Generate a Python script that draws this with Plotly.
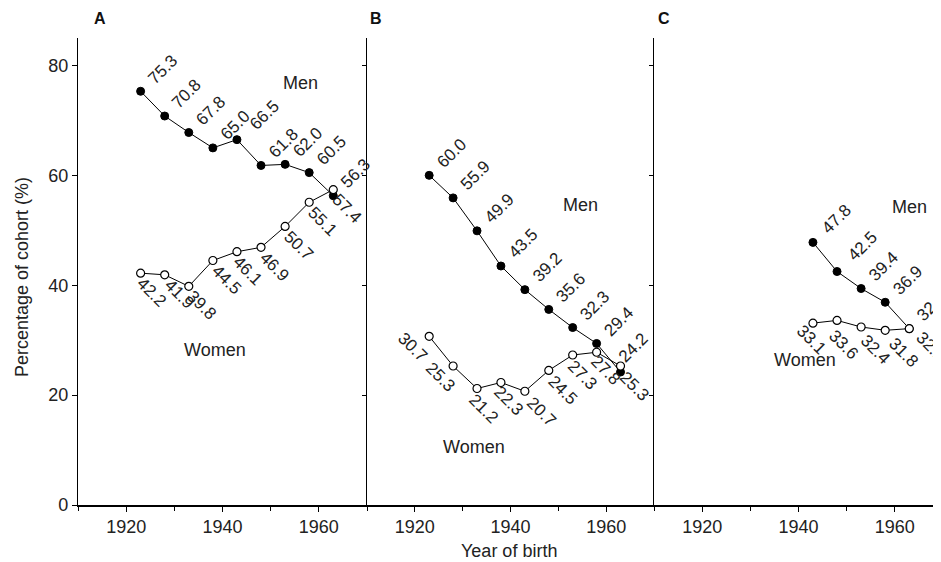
import plotly.graph_objects as go

# ---- data ----
years_ab = [1923, 1928, 1933, 1938, 1943, 1948, 1953, 1958, 1963]
years_c = [1943, 1948, 1953, 1958, 1963]

men_a = [75.3, 70.8, 67.8, 65.0, 66.5, 61.8, 62.0, 60.5, 56.3]
women_a = [42.2, 41.9, 39.8, 44.5, 46.1, 46.9, 50.7, 55.1, 57.4]

men_b = [60.0, 55.9, 49.9, 43.5, 39.2, 35.6, 32.3, 29.4, 24.2]
women_b = [30.7, 25.3, 21.2, 22.3, 20.7, 24.5, 27.3, 27.8, 25.3]

men_c = [47.8, 42.5, 39.4, 36.9, 32.1]
women_c = [33.1, 33.6, 32.4, 31.8, 32.1]

panel_letters = ["A", "B", "C"]
x_ticks = [1920, 1940, 1960]
y_ticks = [0, 20, 40, 60, 80]

FONT = "Liberation Sans, Arial, Helvetica, sans-serif"
TXT = "#222"
FS = 17

# page body has an 8px margin; lay out in page pixels minus 8
OFF = 8
W, H = 941 - OFF, 562 - OFF
L, T = 78 - OFF, 38 - OFF
R = 0
B = H - (505 - OFF)
pw = W - L - R
ph = H - T - B
dA = [0, 289 / pw]
dB = [289 / pw, 576 / pw]
dC = [576 / pw, 1]
px_per_year = 289 / 60.0
c_end = 1910 + (pw - 576) / px_per_year


def px_to_paper_x(px):
    return (px - OFF - L) / pw


def px_to_paper_y(py):
    return (H - B - (py - OFF)) / ph


fig = go.Figure()

panels = [
    ("x", "y", years_ab, men_a, women_a),
    ("x2", "y2", years_ab, men_b, women_b),
    ("x3", "y3", years_c, men_c, women_c),
]

for xr, yr, yrs, men, women in panels:
    fig.add_trace(go.Scatter(
        x=yrs, y=men, mode="lines+markers", xaxis=xr, yaxis=yr,
        line=dict(color="black", width=1),
        marker=dict(symbol="circle", size=8, color="black",
                    line=dict(color="black", width=1)),
        showlegend=False, hoverinfo="skip", cliponaxis=False))
    fig.add_trace(go.Scatter(
        x=yrs, y=women, mode="lines+markers", xaxis=xr, yaxis=yr,
        line=dict(color="black", width=1),
        marker=dict(symbol="circle", size=8, color="white",
                    line=dict(color="black", width=1.2)),
        showlegend=False, hoverinfo="skip", cliponaxis=False))

annotations = []

# per-label nudges (pixels) for crowded spots
men_nudge = {("x", 4): (6, 3), ("x2", 8): (-8, 3), ("x3", 0): (2, 2),
             ("x3", 1): (4, 4)}
women_nudge = {("x", 0): (-4, -4), ("x", 1): (0, -4), ("x", 4): (-5, -4),
               ("x2", 2): (-10, -4), ("x2", 3): (-9, -2), ("x2", 4): (0, -4),
               ("x2", 6): (-6, -4), ("x2", 7): (-7, -2),
               ("x3", 0): (-18, -4), ("x3", 1): (-10, -12), ("x3", 2): (-2, -10),
               ("x3", 3): (2, -10), ("x3", 4): (5, -6)}
women_fix = {"x": (-6, 6), "x2": (-5, 5), "x3": (-5, 9)}
women_left = {("x2", 0): (5, 10), ("x2", 1): (9, 10)}

for xr, yr, yrs, men, women in panels:
    for i, (xv, v) in enumerate(zip(yrs, men)):
        xs, ys = men_nudge.get((xr, i), (1, 1))
        annotations.append(dict(
            x=xv, y=v, xref=xr, yref=yr, text=f"{v:.1f}", showarrow=False,
            textangle=-45, xanchor="left", yanchor="bottom",
            xshift=xs, yshift=ys, font=dict(family=FONT, size=FS, color=TXT)))
    for i, (xv, v) in enumerate(zip(yrs, women)):
        if (xr, i) in women_left:
            xs, ys = women_left[(xr, i)]
            annotations.append(dict(
                x=xv, y=v, xref=xr, yref=yr, text=f"{v:.1f}", showarrow=False,
                textangle=45, xanchor="right", yanchor="top",
                xshift=xs, yshift=ys, font=dict(family=FONT, size=FS, color=TXT)))
        else:
            xs, ys = women_nudge.get((xr, i), (-2, -4))
            fx, fy = women_fix[xr]
            annotations.append(dict(
                x=xv, y=v, xref=xr, yref=yr, text=f"{v:.1f}", showarrow=False,
                textangle=45, xanchor="left", yanchor="top",
                xshift=xs + fx, yshift=ys + fy,
                font=dict(family=FONT, size=FS, color=TXT)))

# series names
name_pos = [
    ("x", "y", 1956.1, 76.8, "Men"), ("x", "y", 1938.4, 28.2, "Women"),
    ("x2", "y2", 1954.6, 54.6, "Men"), ("x2", "y2", 1932.4, 10.6, "Women"),
    ("x3", "y3", 1963.1, 54.2, "Men"), ("x3", "y3", 1941.3, 26.4, "Women"),
]
for xr, yr, xv, yv, t in name_pos:
    annotations.append(dict(x=xv, y=yv, xref=xr, yref=yr, text=t, showarrow=False,
                            font=dict(family=FONT, size=18, color=TXT)))

# panel letters
for lx, letter in zip([100, 376, 664], panel_letters):
    annotations.append(dict(x=px_to_paper_x(lx), y=px_to_paper_y(19),
                            xref="paper", yref="paper", text=f"<b>{letter}</b>",
                            showarrow=False, xanchor="center", yanchor="middle",
                            font=dict(family=FONT, size=16, color="#111")))

# axis titles
annotations.append(dict(x=px_to_paper_x(509), y=px_to_paper_y(551),
                        xref="paper", yref="paper", text="Year of birth",
                        showarrow=False, xanchor="center", yanchor="middle",
                        font=dict(family=FONT, size=18, color=TXT)))
annotations.append(dict(x=px_to_paper_x(22), y=px_to_paper_y(277),
                        xref="paper", yref="paper", text="Percentage of cohort (%)",
                        showarrow=False, xanchor="center", yanchor="middle",
                        textangle=-90, font=dict(family=FONT, size=18, color=TXT)))

xcommon = dict(tickvals=x_ticks, ticks="outside", ticklen=5, tickcolor="black",
               showline=True, linecolor="black", linewidth=1.5, showgrid=False,
               zeroline=False, automargin=False,
               tickfont=dict(family=FONT, size=18, color=TXT),
               minor=dict(dtick=10, ticks="outside", ticklen=4, tickcolor="black"))
ycommon = dict(range=[0, 85], tickvals=y_ticks, showgrid=False, zeroline=False,
               showline=True, linecolor="black", linewidth=1.2, automargin=False)

fig.update_layout(
    width=W, height=H, margin=dict(l=L, r=R, t=T, b=B, autoexpand=False),
    paper_bgcolor="white", plot_bgcolor="white",
    xaxis=dict(domain=dA, range=[1910, 1970], anchor="y", **xcommon),
    xaxis2=dict(domain=dB, range=[1910, 1970], anchor="y2", **xcommon),
    xaxis3=dict(domain=dC, range=[1910, c_end], anchor="y3", **xcommon),
    yaxis=dict(anchor="x", ticks="outside", ticklen=5, tickcolor="black",
               tickfont=dict(family=FONT, size=18, color=TXT), **ycommon),
    yaxis2=dict(anchor="x2", ticks="outside", ticklen=4, tickcolor="black",
                showticklabels=False, **ycommon),
    yaxis3=dict(anchor="x3", ticks="outside", ticklen=4, tickcolor="black",
                showticklabels=False, **ycommon),
    annotations=annotations,
)

fig.write_html("out.html")
